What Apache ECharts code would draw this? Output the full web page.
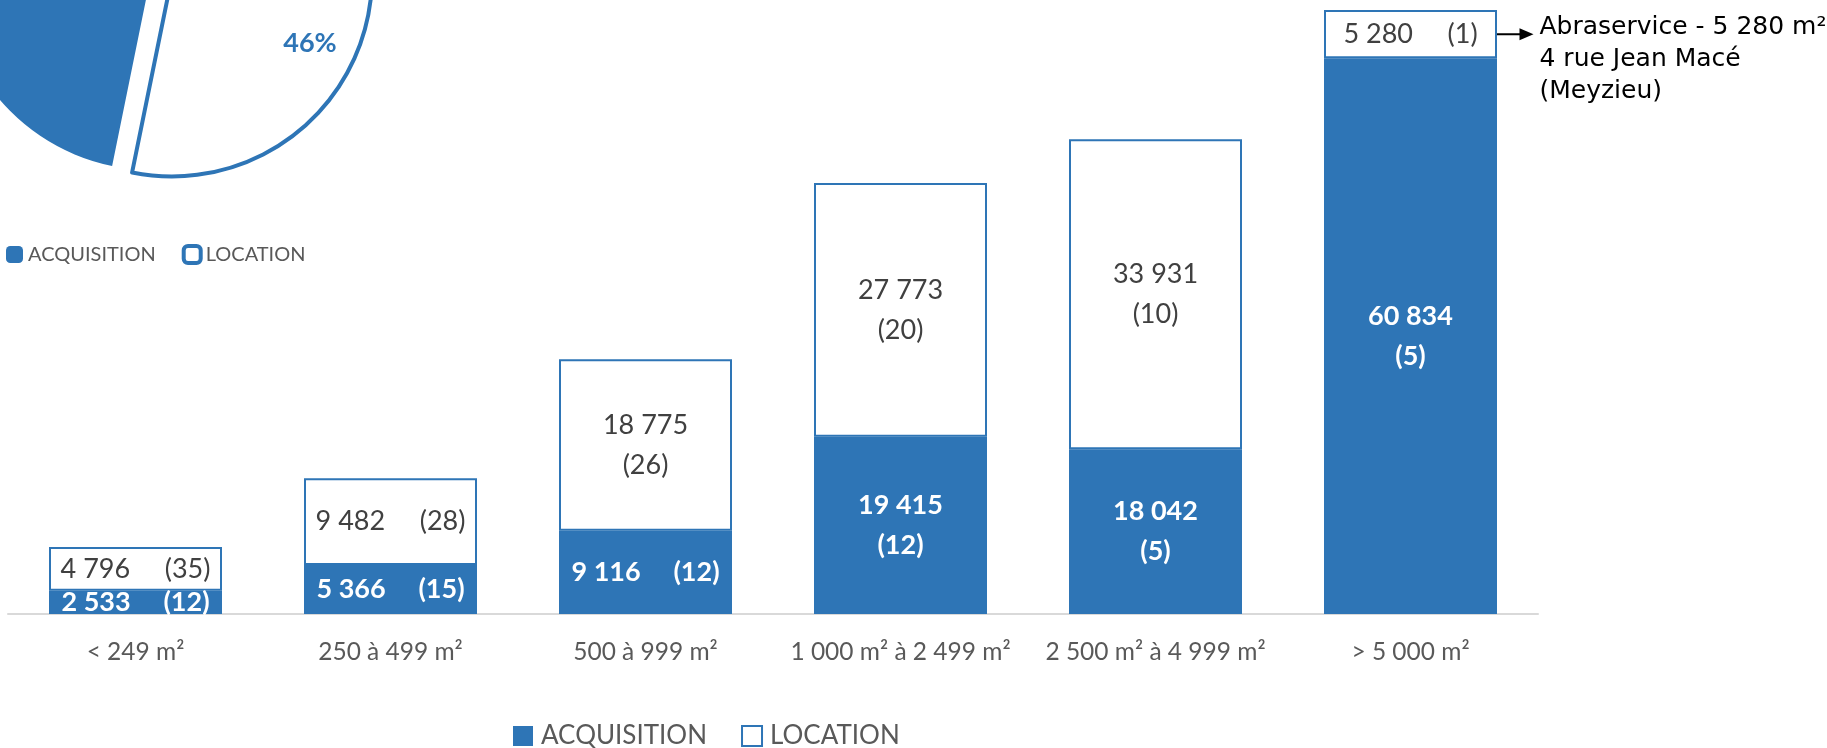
<!DOCTYPE html>
<html>
<head>
<meta charset="utf-8">
<title>Surfaces</title>
<style>
html, body { margin: 0; padding: 0; background: #fff; }
#main { width: 1827px; height: 748px; }
</style>
<script src="https://cdn.jsdelivr.net/npm/echarts@6/dist/echarts.min.js"></script>
</head>
<body>
<div id="main"></div>
<script>
// données (m²) et nombre de transactions
var categories = ['< 249 m²', '250 à 499 m²', '500 à 999 m²', '1 000 m² à 2 499 m²', '2 500 m² à 4 999 m²', '> 5 000 m²'];
var acqSurface = [2533, 5366, 9116, 19415, 18042, 60834];
var locSurface = [4796, 9482, 18775, 27773, 33931, 5280];
var acqCount = [12, 15, 12, 12, 5, 5];
var locCount = [35, 28, 26, 20, 10, 1];
var noteLines = ['Abraservice - 5 280 m²', '4 rue Jean Macé', '(Meyzieu)'];

var blue = '#2e75b6';
var myChart = echarts.init(document.getElementById('main'));

function fmt(n) {
    return String(n).replace(/\B(?=(\d{3})+(?!\d))/g, ' ');
}
function sum(arr) {
    var s = 0;
    for (var i = 0; i < arr.length; i++) s += arr[i];
    return s;
}
// gros segments : valeur et nombre sur deux lignes
function makeLabel(counts) {
    return function (p) {
        var v = fmt(p.value), c = '(' + counts[p.dataIndex] + ')';
        return p.value > 10000 ? v + '\n' + c : v + '     ' + c;
    };
}

var option = {
    animation: false,
    textStyle: { fontFamily: 'Lato' },
    grid: { left: 8, right: 289, top: 2, bottom: 134 },
    xAxis: {
        type: 'category',
        data: categories,
        axisLine: { lineStyle: { color: '#d9d9d9', width: 2 } },
        axisTick: { show: false },
        axisLabel: { color: '#595959', fontSize: 24.5, margin: 26, interval: 0, fontFamily: 'Lato' }
    },
    yAxis: { type: 'value', min: 0, max: 67000, show: false },
    legend: [
        {
            left: 1, top: 239, itemWidth: 17, itemHeight: 17, itemGap: 26,
            icon: 'roundRect', selectedMode: false,
            textStyle: { fontSize: 20, color: '#595959', fontFamily: 'Lato' },
            data: [
                { name: 'ACQUISITION', itemStyle: { color: blue, borderWidth: 0 } },
                { name: 'LOCATION', itemStyle: { color: '#fff', borderColor: blue, borderWidth: 4 } }
            ]
        },
        {
            left: 508, top: 718, itemWidth: 20, itemHeight: 20, itemGap: 34,
            icon: 'rect', selectedMode: false,
            textStyle: { fontSize: 26, color: '#595959', fontFamily: 'Lato', padding: [0, 0, 0, 3] },
            data: [
                { name: 'ACQUISITION', itemStyle: { color: blue, borderWidth: 0 } },
                { name: 'LOCATION', itemStyle: { color: '#fff', borderColor: blue, borderWidth: 2 } }
            ]
        }
    ],
    series: [
        {
            name: 'ACQUISITION',
            type: 'bar',
            stack: 'total',
            barWidth: 173,
            data: acqSurface,
            itemStyle: { color: blue },
            emphasis: { disabled: true },
            label: {
                show: true, position: 'inside', color: '#fff', fontWeight: 'bold',
                fontSize: 27, lineHeight: 40, fontFamily: 'Lato',
                formatter: makeLabel(acqCount)
            }
        },
        {
            name: 'LOCATION',
            type: 'bar',
            stack: 'total',
            barWidth: 173,
            data: locSurface,
            itemStyle: { color: '#fff', borderColor: blue, borderWidth: 2 },
            emphasis: { disabled: true },
            label: {
                show: true, position: 'inside', color: '#404040',
                fontSize: 27, lineHeight: 40, fontFamily: 'Lato',
                formatter: makeLabel(locCount)
            }
        },
        {
            type: 'pie',
            center: [152, -30],
            radius: 200,
            startAngle: 258.5,
            selectedMode: 'single',
            selectedOffset: 21,
            emphasis: { disabled: true },
            labelLine: { show: false },
            label: {
                show: true, position: 'inside', color: blue, fontWeight: 'bold',
                fontSize: 27, fontFamily: 'Lato',
                formatter: function (p) { return Math.round(p.percent) + '%'; }
            },
            labelLayout: { dx: 40, dy: 35 },
            data: [
                // le libellé de cette part tombe hors du cadre
                { name: 'ACQUISITION', value: sum(acqSurface), itemStyle: { color: blue }, label: { show: false } },
                {
                    name: 'LOCATION', value: sum(locSurface), selected: true,
                    itemStyle: { color: '#fff', borderColor: blue, borderWidth: 4 },
                    select: { itemStyle: { color: '#fff', borderColor: blue, borderWidth: 4 } }
                }
            ]
        }
    ]
};
myChart.setOption(option);

// flèche + note à droite du dernier bâton
var last = categories.length - 1;
var pt = myChart.convertToPixel({ gridIndex: 0 }, [categories[last], acqSurface[last] + locSurface[last] / 2]);
var x = pt[0], y = pt[1];
myChart.setOption({
    graphic: [
        { type: 'line', shape: { x1: x + 77, y1: y, x2: x + 112, y2: y }, style: { stroke: '#000', lineWidth: 2 } },
        { type: 'polygon', shape: { points: [[x + 109, y - 6], [x + 123, y], [x + 109, y + 6]] }, style: { fill: '#000' } },
        {
            type: 'text', x: x + 129, y: y - 23,
            style: {
                text: noteLines.join('\n'), fill: '#000',
                font: '25px "DejaVu Sans"', lineHeight: 32, verticalAlign: 'top'
            }
        }
    ]
});
</script>
</body>
</html>
